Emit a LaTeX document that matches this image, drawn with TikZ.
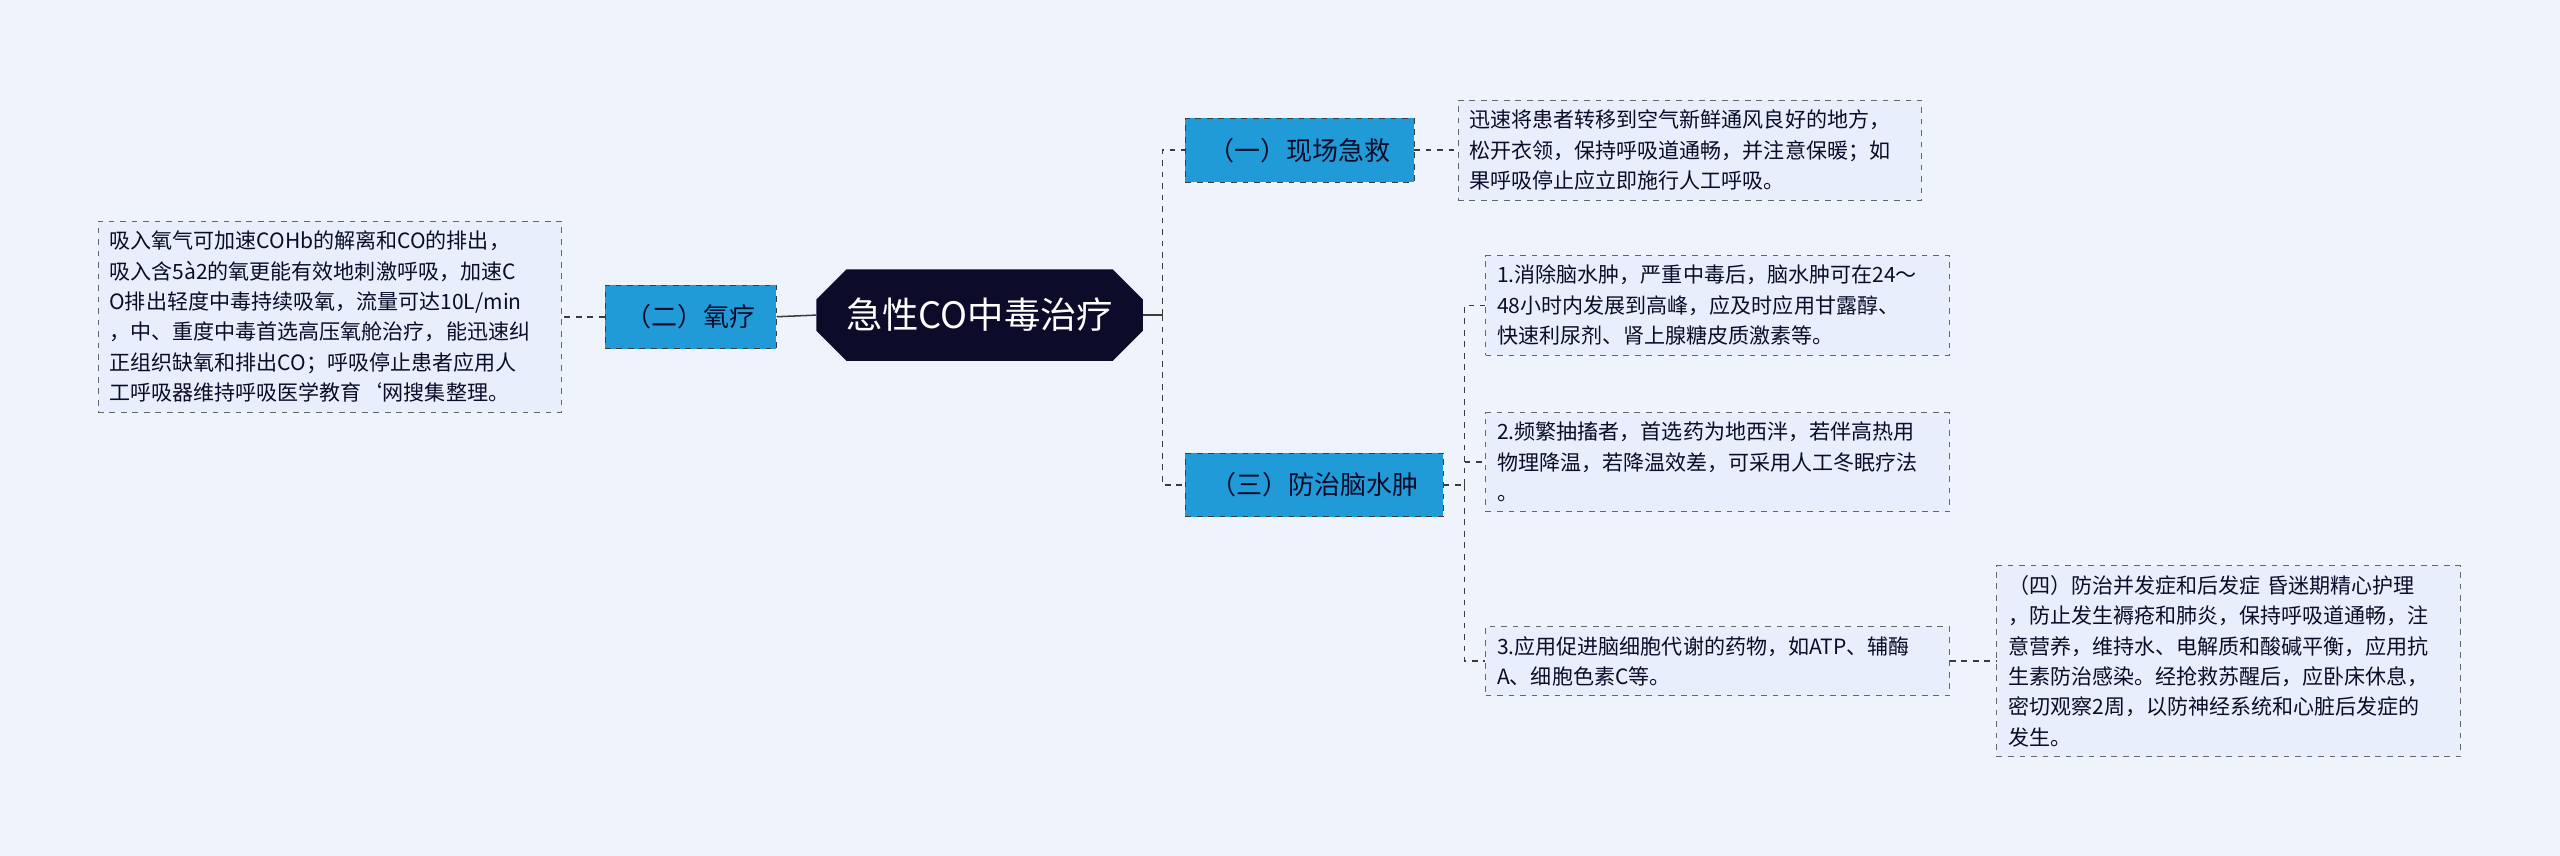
\documentclass[tikz,border=0pt]{standalone}
\usepackage{fontspec}
\setmainfont{Noto Sans CJK SC}
\usetikzlibrary{positioning,shapes.misc}
\definecolor{bgblue}{RGB}{239,243,252}
\definecolor{rootnavy}{RGB}{12,12,42}
\definecolor{branchblue}{RGB}{33,155,215}
\definecolor{leaffill}{RGB}{232,238,251}
\definecolor{linegray}{RGB}{60,60,60}

\begin{document}
\begin{tikzpicture}[x=0.03cm,y=-0.03cm]
    \tikzset{root/.style={chamfered rectangle,chamfered rectangle xsep=0.5cm,fill=rootnavy,text=white,
        minimum width=6cm,minimum height=1.68cm,inner xsep=2pt,font=\fontsize{19}{22}\selectfont}}
    \tikzset{branch/.style={draw=linegray,dashed,fill=branchblue,text=rootnavy,minimum height=1.17cm,
        inner xsep=8pt,font=\fontsize{13.6}{16}\selectfont}}
    \tikzset{leaf/.style={draw=gray!80!black,dashed,fill=leaffill,text=rootnavy,align=left,
        text width=8.1cm,inner xsep=6pt,inner ysep=5pt,font=\fontsize{11}{15.9}\selectfont}}
    \tikzset{link/.style={draw=linegray,dashed,line width=0.8pt}}
    \useasboundingbox[fill=bgblue] (0,0) rectangle (1568,524);

    % root and branches
    \node[root] (co) at (600,193) {急性CO中毒治疗};
    \node[branch,minimum width=4.2cm] (scene) at (796,92) {（一）现场急救};
    \node[branch,minimum width=3.15cm] (oxy) at (423,194) {（二）氧疗};
    \node[branch,minimum width=4.74cm] (brain) at (805,297) {（三）防治脑水肿};

    % leaves
    \node[leaf] (sceneA) at (1035,92) {迅速将患者转移到空气新鲜通风良好的地方，\\松开衣领，保持呼吸道通畅，并注意保暖；如\\果呼吸停止应立即施行人工呼吸。};
    \node[leaf] (oxyA) at (202,194) {吸入氧气可加速COHb的解离和CO的排出，\\吸入含5à2的氧更能有效地刺激呼吸，加速C\\O排出轻度中毒持续吸氧，流量可达10L/min\\，中、重度中毒首选高压氧舱治疗，能迅速纠\\正组织缺氧和排出CO；呼吸停止患者应用人\\工呼吸器维持呼吸医学教育`网搜集整理。};
    \node[leaf] (brainA) at (1052,187) {1.消除脑水肿，严重中毒后，脑水肿可在24～\\48小时内发展到高峰，应及时应用甘露醇、\\快速利尿剂、肾上腺糖皮质激素等。};
    \node[leaf] (brainB) at (1052,283) {2.频繁抽搐者，首选药为地西泮，若伴高热用\\物理降温，若降温效差，可采用人工冬眠疗法\\。};
    \node[leaf] (brainC) at (1052,405) {3.应用促进脑细胞代谢的药物，如ATP、辅酶\\A、细胞色素C等。};
    \node[leaf] (brainD) at (1365,405) {（四）防治并发症和后发症 昏迷期精心护理\\，防止发生褥疮和肺炎，保持呼吸道通畅，注\\意营养，维持水、电解质和酸碱平衡，应用抗\\生素防治感染。经抢救苏醒后，应卧床休息，\\密切观察2周，以防神经系统和心脏后发症的\\发生。};

    % connectors
    \coordinate (rootfork) at (712,193);
    \coordinate (brainfork) at (897,297);
    \draw[draw=linegray,line width=0.8pt] (co.east) -- (rootfork);
    \draw[link] (rootfork) |- (scene.west);
    \draw[link] (rootfork) |- (brain.west);
    \draw[draw=linegray,line width=0.8pt] (co.west) -- (oxy.east);
    \draw[link] (oxy.west) -- (oxyA.east);
    \draw[link] (scene.east) -- (sceneA.west);
    \draw[link] (brain.east) -- (brainfork);
    \draw[link] (brainfork) |- (brainA.west);
    \draw[link] (brainfork) |- (brainB.west);
    \draw[link] (brainfork) |- (brainC.west);
    \draw[link] (brainC.east) -- (brainD.west);
\end{tikzpicture}
\end{document}
